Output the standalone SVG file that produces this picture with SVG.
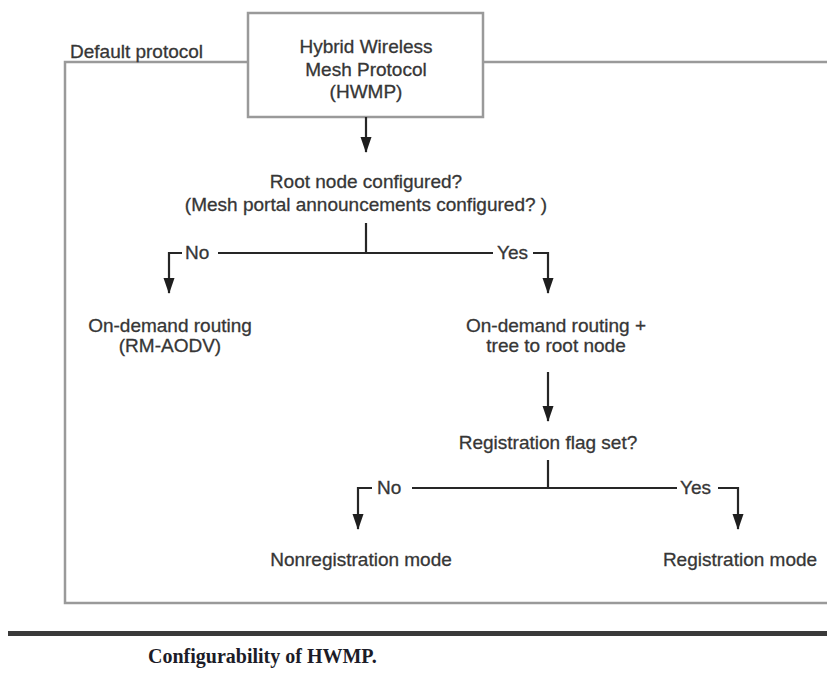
<svg xmlns="http://www.w3.org/2000/svg" width="827" height="682" viewBox="0 0 827 682">
  <defs>
    <!-- solid arrowhead, drawn along +x so orient="auto" points it down the path -->
    <marker id="head" markerUnits="userSpaceOnUse" markerWidth="16" markerHeight="12" viewBox="0 0 16 12" refX="15" refY="6" orient="auto">
      <path d="M0,0.5 L16,6 L0,11.5 Z" fill="#1e1e1e"/>
    </marker>
    <style>
      .lbl { font-family: "Liberation Sans", Arial, sans-serif; font-size: 19px; fill: #363636; stroke: #363636; stroke-width: 0.3; }
      .mid { text-anchor: middle; }
      .frame { fill: none; stroke: #9a9a9a; stroke-width: 2.5; }
      .link { fill: none; stroke: #262626; stroke-width: 2.2; }
      .arrow { fill: none; stroke: #262626; stroke-width: 2.2; }
      .caption { font-family: "Liberation Serif", "Times New Roman", serif; font-size: 20px; font-weight: bold; fill: #1c1c28; }
    </style>
  </defs>
  <rect width="827" height="682" fill="#ffffff"/>

  <!-- default protocol enclosure -->
  <g id="default-protocol">
    <path class="frame" d="M248,62 H65 V603 H827"/>
    <path class="frame" d="M483,62 H827"/>
    <text class="lbl" x="70" y="58">Default protocol</text>
  </g>

  <g id="hwmp">
    <rect class="frame" x="248" y="13" width="235" height="104" fill="#fff"/>
    <text class="lbl mid" x="366" y="53">Hybrid Wireless</text>
    <text class="lbl mid" x="366" y="76">Mesh Protocol</text>
    <text class="lbl mid" x="366" y="98">(HWMP)</text>
  </g>

  <g id="root-question">
    <text class="lbl mid" x="366" y="188">Root node configured?</text>
    <text class="lbl mid" x="366" y="211">(Mesh portal announcements configured? )</text>
  </g>

  <g id="on-demand">
    <text class="lbl mid" x="170" y="332">On-demand routing</text>
    <text class="lbl mid" x="170" y="352">(RM-AODV)</text>
  </g>

  <g id="on-demand-tree">
    <text class="lbl mid" x="556" y="332">On-demand routing +</text>
    <text class="lbl mid" x="556" y="352">tree to root node</text>
  </g>

  <g id="registration-question">
    <text class="lbl mid" x="548" y="449">Registration flag set?</text>
  </g>

  <g id="nonregistration">
    <text class="lbl mid" x="361" y="566">Nonregistration mode</text>
  </g>

  <g id="registration">
    <text class="lbl mid" x="740" y="566">Registration mode</text>
  </g>

  <g id="connectors">
    <path class="arrow" d="M366,117 V152" marker-end="url(#head)"/>
    <path class="link" d="M366,223 V253"/>
    <path class="link" d="M218,253 H493"/>
    <path class="arrow" d="M182,253 H169 V293" marker-end="url(#head)"/>
    <path class="arrow" d="M533,253 H548 V293" marker-end="url(#head)"/>
    <text class="lbl" x="185" y="259">No</text>
    <text class="lbl" x="497" y="259">Yes</text>

    <path class="arrow" d="M548,372 V421" marker-end="url(#head)"/>
    <path class="link" d="M548,460 V488"/>
    <path class="link" d="M412,488 H677"/>
    <path class="arrow" d="M372,488 H358 V529" marker-end="url(#head)"/>
    <path class="arrow" d="M718,488 H738 V529" marker-end="url(#head)"/>
    <text class="lbl" x="377" y="494">No</text>
    <text class="lbl" x="680" y="494">Yes</text>
  </g>

  <!-- rule and figure caption -->
  <rect x="8" y="631" width="819" height="5" fill="#3a3a3a"/>
  <text class="caption" x="148" y="663">Configurability of HWMP.</text>
</svg>
